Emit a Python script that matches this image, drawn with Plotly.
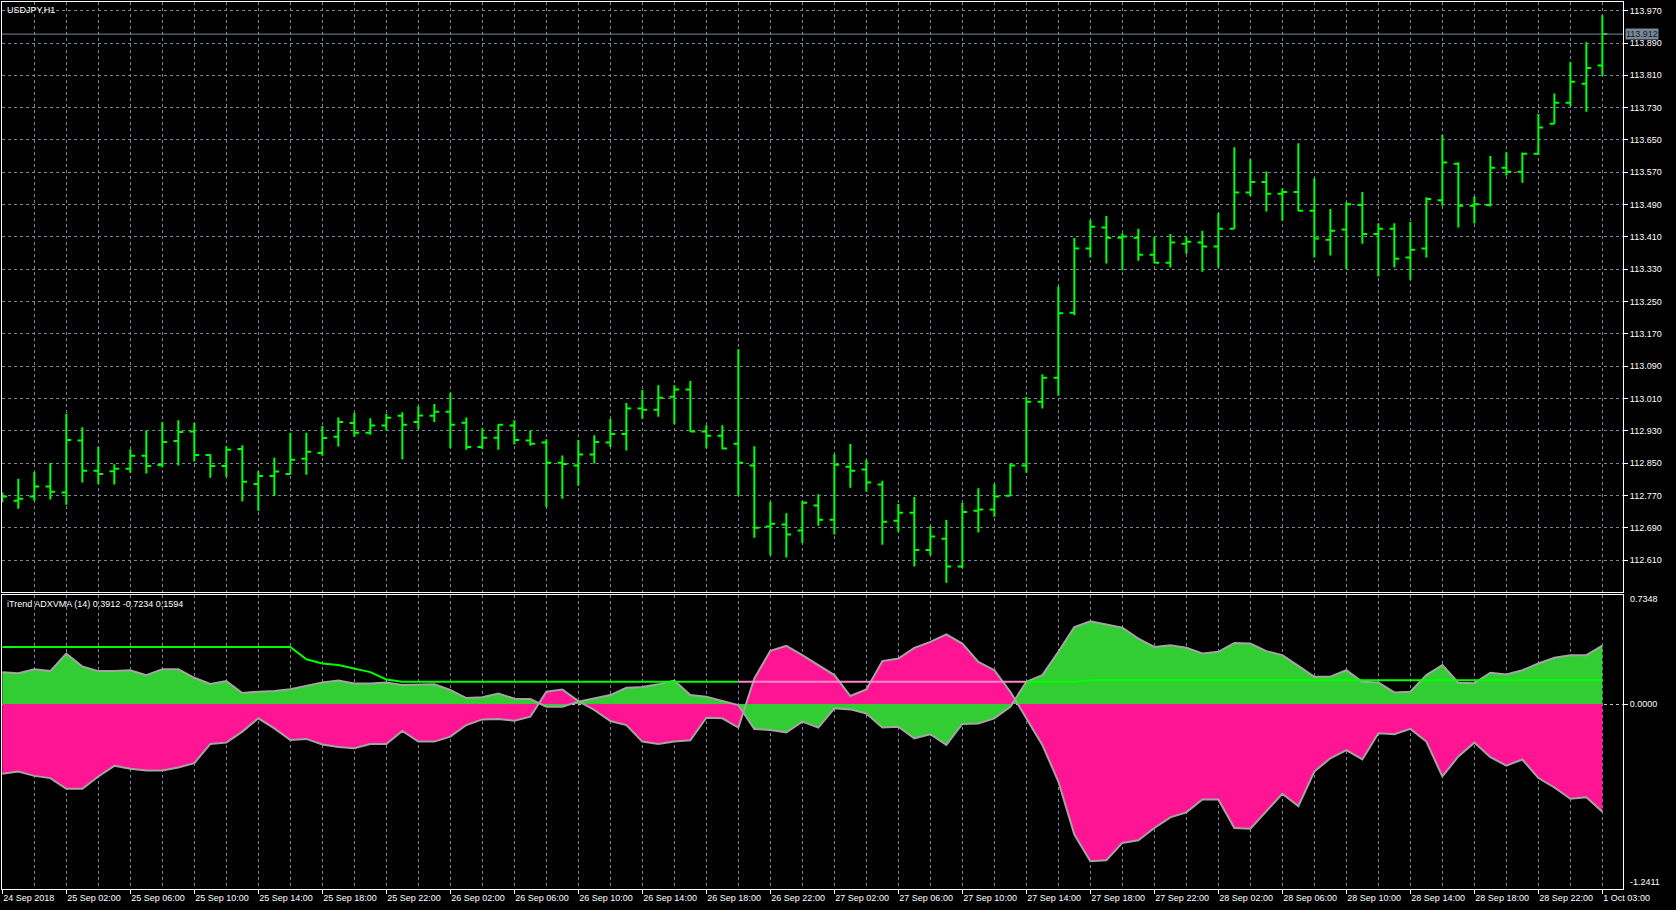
import plotly.graph_objects as go

# ---------------- data ----------------
price_open = [112.770, 112.757, 112.767, 112.792, 112.777, 112.906, 112.831, 112.830, 112.836, 112.868,
              112.845, 112.905, 112.928, 112.870, 112.843, 112.885, 112.798, 112.818, 112.823, 112.861,
              112.875, 112.915, 112.949, 112.925, 112.943, 112.967, 112.952, 112.967, 112.977, 112.950,
              112.890, 112.913, 112.943, 112.906, 112.901, 112.851, 112.844, 112.871, 112.901, 112.922,
              112.985, 112.982, 113.014, 113.032, 112.928, 112.918, 112.898, 112.844, 112.693, 112.698,
              112.683, 112.745, 112.710, 112.841, 112.834, 112.797, 112.707, 112.727, 112.635, 112.663,
              112.594, 112.732, 112.735, 112.769, 112.844, 113.002, 113.061, 113.222, 113.381, 113.433,
              113.408, 113.408, 113.366, 113.346, 113.393, 113.396, 113.386, 113.430, 113.520, 113.546,
              113.517, 113.521, 113.475, 113.403, 113.428, 113.489, 113.417, 113.430, 113.359, 113.381,
              113.501, 113.591, 113.487, 113.489, 113.581, 113.571, 113.616, 113.690, 113.742, 113.789,
              113.834]
price_high = [112.777, 112.811, 112.828, 112.850, 112.972, 112.939, 112.890, 112.847, 112.884, 112.931,
              112.952, 112.956, 112.949, 112.872, 112.892, 112.894, 112.830, 112.863, 112.925, 112.925,
              112.942, 112.963, 112.974, 112.961, 112.972, 112.976, 112.991, 112.996, 113.024, 112.963,
              112.936, 112.946, 112.956, 112.931, 112.909, 112.869, 112.907, 112.919, 112.959, 112.999,
              113.031, 113.043, 113.043, 113.053, 112.944, 112.944, 113.132, 112.892, 112.754, 112.726,
              112.756, 112.773, 112.872, 112.897, 112.858, 112.806, 112.749, 112.766, 112.694, 112.709,
              112.751, 112.788, 112.798, 112.849, 113.014, 113.070, 113.287, 113.407, 113.452, 113.462,
              113.419, 113.430, 113.410, 113.417, 113.411, 113.425, 113.469, 113.632, 113.602, 113.572,
              113.530, 113.642, 113.555, 113.479, 113.496, 113.521, 113.444, 113.444, 113.447, 113.508,
              113.662, 113.595, 113.510, 113.610, 113.619, 113.619, 113.714, 113.765, 113.843, 113.892,
              113.959]
price_low = [112.753, 112.737, 112.757, 112.760, 112.747, 112.802, 112.798, 112.797, 112.826, 112.824,
             112.839, 112.844, 112.854, 112.814, 112.816, 112.755, 112.732, 112.769, 112.822, 112.821,
             112.868, 112.891, 112.915, 112.920, 112.930, 112.859, 112.934, 112.952, 112.887, 112.883,
             112.885, 112.883, 112.896, 112.893, 112.741, 112.762, 112.794, 112.849, 112.890, 112.881,
             112.960, 112.965, 112.947, 112.927, 112.886, 112.884, 112.769, 112.665, 112.622, 112.616,
             112.652, 112.695, 112.673, 112.789, 112.779, 112.648, 112.680, 112.594, 112.622, 112.554,
             112.590, 112.678, 112.717, 112.769, 112.826, 112.985, 113.017, 113.216, 113.359, 113.344,
             113.327, 113.351, 113.345, 113.334, 113.368, 113.324, 113.334, 113.430, 113.511, 113.473,
             113.450, 113.474, 113.359, 113.364, 113.330, 113.393, 113.312, 113.334, 113.304, 113.359,
             113.487, 113.433, 113.443, 113.485, 113.562, 113.544, 113.613, 113.690, 113.734, 113.720,
             113.808]
price_close = [112.767, 112.762, 112.792, 112.779, 112.907, 112.831, 112.823, 112.836, 112.868, 112.843,
               112.902, 112.927, 112.870, 112.843, 112.883, 112.804, 112.818, 112.829, 112.858, 112.878,
               112.912, 112.952, 112.925, 112.943, 112.962, 112.945, 112.968, 112.977, 112.945, 112.890,
               112.913, 112.945, 112.907, 112.898, 112.851, 112.848, 112.871, 112.902, 112.922, 112.985,
               112.982, 113.012, 113.032, 112.928, 112.918, 112.886, 112.851, 112.690, 112.700, 112.673,
               112.752, 112.710, 112.846, 112.831, 112.802, 112.705, 112.727, 112.635, 112.668, 112.594,
               112.729, 112.735, 112.767, 112.844, 113.002, 113.061, 113.221, 113.381, 113.435, 113.408,
               113.411, 113.366, 113.346, 113.396, 113.398, 113.386, 113.430, 113.520, 113.546, 113.517,
               113.521, 113.475, 113.406, 113.425, 113.491, 113.417, 113.430, 113.356, 113.378, 113.504,
               113.594, 113.487, 113.491, 113.581, 113.571, 113.616, 113.681, 113.742, 113.794, 113.828,
               113.912]

time_labels = ["24 Sep 2018", "25 Sep 02:00", "25 Sep 06:00", "25 Sep 10:00", "25 Sep 14:00",
               "25 Sep 18:00", "25 Sep 22:00", "26 Sep 02:00", "26 Sep 06:00", "26 Sep 10:00",
               "26 Sep 14:00", "26 Sep 18:00", "26 Sep 22:00", "27 Sep 02:00", "27 Sep 06:00",
               "27 Sep 10:00", "27 Sep 14:00", "27 Sep 18:00", "27 Sep 22:00", "28 Sep 02:00",
               "28 Sep 06:00", "28 Sep 10:00", "28 Sep 14:00", "28 Sep 18:00", "28 Sep 22:00",
               "1 Oct 03:00"]
bars_per_label = 4

price_ticks = [112.610, 112.690, 112.770, 112.850, 112.930, 113.010, 113.090, 113.170, 113.250,
               113.330, 113.410, 113.490, 113.570, 113.650, 113.730, 113.810, 113.890, 113.970]
current_price = 113.912

trend_up = [0.214, 0.207, 0.234, 0.221, 0.338, 0.252, 0.221, 0.221, 0.227, 0.194,
            0.234, 0.234, 0.176, 0.134, 0.154, 0.074, 0.083, 0.087, 0.100, 0.120,
            0.145, 0.158, 0.138, 0.138, 0.145, 0.127, 0.132, 0.132, 0.094, 0.040,
            0.045, 0.071, 0.036, 0.033, -0.018, -0.018, 0.016, 0.038, 0.060, 0.109,
            0.114, 0.132, 0.158, 0.060, 0.049, 0.020, -0.007, -0.167, -0.174, -0.190,
            -0.118, -0.158, -0.029, -0.036, -0.063, -0.158, -0.152, -0.230, -0.203, -0.274,
            -0.134, -0.130, -0.096, -0.018, 0.149, 0.194, 0.350, 0.517, 0.555, 0.533,
            0.513, 0.439, 0.383, 0.395, 0.377, 0.339, 0.350, 0.410, 0.406, 0.355,
            0.328, 0.256, 0.183, 0.183, 0.227, 0.149, 0.145, 0.078, 0.083, 0.194,
            0.261, 0.143, 0.140, 0.210, 0.198, 0.227, 0.272, 0.310, 0.328, 0.328,
            0.3912]
trend_down = [-0.468, -0.453, -0.482, -0.497, -0.569, -0.569, -0.486, -0.415, -0.435, -0.446,
              -0.446, -0.426, -0.397, -0.268, -0.259, -0.185, -0.096, -0.163, -0.241, -0.234,
              -0.272, -0.288, -0.297, -0.268, -0.268, -0.181, -0.252, -0.252, -0.219, -0.141,
              -0.103, -0.100, -0.112, -0.085, 0.083, 0.098, 0.020, -0.040, -0.114, -0.141,
              -0.252, -0.268, -0.252, -0.243, -0.092, -0.096, -0.158, 0.172, 0.357, 0.390,
              0.328, 0.261, 0.194, 0.054, 0.098, 0.288, 0.305, 0.377, 0.417, 0.468,
              0.406, 0.283, 0.227, 0.082, -0.096, -0.274, -0.520, -0.876, -1.055, -1.048,
              -0.932, -0.914, -0.832, -0.760, -0.727, -0.640, -0.640, -0.832, -0.836, -0.720,
              -0.602, -0.685, -0.453, -0.364, -0.310, -0.372, -0.196, -0.203, -0.167, -0.252,
              -0.486, -0.352, -0.259, -0.357, -0.413, -0.372, -0.497, -0.560, -0.636, -0.625,
              -0.7234]
signal = [0.383, 0.383, 0.383, 0.383, 0.383, 0.383, 0.383, 0.383, 0.383, 0.383,
          0.383, 0.383, 0.383, 0.383, 0.383, 0.383, 0.383, 0.383, 0.383, 0.300,
          0.272, 0.262, 0.240, 0.214, 0.165, 0.150, 0.150, 0.150, 0.150, 0.150,
          0.150, 0.150, 0.150, 0.150, 0.150, 0.150, 0.150, 0.150, 0.150, 0.150,
          0.150, 0.150, 0.150, 0.150, 0.150, 0.150, 0.150, 0.150, 0.150, 0.150,
          0.150, 0.150, 0.150, 0.150, 0.150, 0.150, 0.150, 0.150, 0.150, 0.150,
          0.150, 0.150, 0.150, 0.150, 0.150, 0.150, 0.150, 0.150, 0.159, 0.159,
          0.159, 0.159, 0.159, 0.159, 0.159, 0.159, 0.159, 0.159, 0.159, 0.159,
          0.159, 0.159, 0.159, 0.159, 0.159, 0.159, 0.159, 0.159, 0.159, 0.159,
          0.159, 0.159, 0.159, 0.159, 0.159, 0.159, 0.159, 0.159, 0.159, 0.159,
          0.1594]
signal_down_first, signal_down_last = 46, 64
ind_max, ind_min = 0.7348, -1.2411

# ---------------- styling ----------------
FONT = "Liberation Sans, Arial, sans-serif"
GRID = "#778899"
DASH = "3px,3px"
BAR = "#00FF00"

n = len(price_open)
idx = list(range(n))
x_range = [-0.02, n - 1 + 1.29]

fig = go.Figure()

fig.add_trace(go.Ohlc(
    x=idx, open=price_open, high=price_high, low=price_low, close=price_close,
    increasing=dict(line=dict(color=BAR, width=2)),
    decreasing=dict(line=dict(color=BAR, width=2)),
    tickwidth=0.3, hoverinfo="skip", xaxis="x", yaxis="y"))

# indicator fills
fig.add_trace(go.Scatter(x=idx, y=trend_down, mode="lines", fill="tozeroy",
                         fillcolor="#FF1493", line=dict(width=0), hoverinfo="skip",
                         xaxis="x2", yaxis="y2"))
fig.add_trace(go.Scatter(x=idx, y=trend_up, mode="lines", fill="tozeroy",
                         fillcolor="#32CD32", line=dict(width=0), hoverinfo="skip",
                         xaxis="x2", yaxis="y2"))
# outlines
for series in (trend_up, trend_down):
    fig.add_trace(go.Scatter(x=idx, y=series, mode="lines",
                             line=dict(color="#A4A4A4", width=2), hoverinfo="skip",
                             xaxis="x2", yaxis="y2"))
# signal line, green / pink
sig_up = [v if (i <= signal_down_first or i >= signal_down_last) else None for i, v in enumerate(signal)]
sig_dn = [v if signal_down_first <= i <= signal_down_last else None for i, v in enumerate(signal)]
fig.add_trace(go.Scatter(x=idx, y=sig_up, mode="lines", line=dict(color="#00FF00", width=2),
                         hoverinfo="skip", xaxis="x2", yaxis="y2", connectgaps=False))
fig.add_trace(go.Scatter(x=idx, y=sig_dn, mode="lines", line=dict(color="#FF88C8", width=2),
                         hoverinfo="skip", xaxis="x2", yaxis="y2", connectgaps=False))

label_pos = [i * bars_per_label for i in range(len(time_labels))]
axis_common = dict(showline=True, mirror=True, linecolor="white", linewidth=1, zeroline=False)
tickfont = dict(family=FONT, size=9, color="white")

fig.update_layout(
    width=1676, height=910,
    paper_bgcolor="black", plot_bgcolor="black",
    margin=dict(l=2, r=53, t=2, b=21),
    showlegend=False,
    xaxis=dict(domain=[0, 1], anchor="y", range=x_range, tickmode="linear", tick0=0, dtick=2,
               showticklabels=False, ticks="", showgrid=True, gridcolor=GRID, griddash=DASH,
               gridwidth=1, rangeslider=dict(visible=False), **axis_common),
    yaxis=dict(domain=[0.3348, 1], anchor="x", side="right",
               range=[112.5308, 113.9915], tickmode="array", tickvals=price_ticks,
               tickformat=".3f", ticks="outside", ticklen=4, tickcolor="white",
               tickfont=tickfont, showgrid=True, gridcolor=GRID, griddash=DASH, gridwidth=1,
               **axis_common),
    xaxis2=dict(domain=[0, 1], anchor="y2", range=x_range, tickmode="array",
                tickvals=label_pos, ticktext=time_labels, ticks="outside", ticklen=4,
                tickcolor="white", tickfont=tickfont, ticklabelposition="outside right",
                showgrid=False,
                minor=dict(tickmode="linear", tick0=0, dtick=2, showgrid=True, gridcolor=GRID,
                           griddash=DASH, gridwidth=1, ticks=""),
                layer="above traces", **axis_common),
    yaxis2=dict(domain=[0, 0.332], anchor="x2", side="right", range=[ind_min, ind_max],
                tickmode="array", tickvals=[0.0], ticktext=["0.0000"], ticks="outside",
                ticklen=4, tickcolor="white", tickfont=tickfont, showgrid=True,
                gridcolor="#C8C8C8", griddash=DASH, gridwidth=1, layer="above traces",
                **axis_common),
)

# current price line and tag
fig.add_shape(type="line", xref="x domain", yref="y", x0=0, x1=1,
              y0=current_price, y1=current_price, line=dict(color=GRID, width=1))

ann_font = dict(family=FONT, size=9, color="white")
fig.add_annotation(text=f"{current_price:.3f}", xref="paper", yref="y", x=1, y=current_price,
                   xanchor="left", yanchor="middle", xshift=2, showarrow=False,
                   bgcolor=GRID, borderpad=0, font=dict(family=FONT, size=9, color="#1a1a1a"))
fig.add_annotation(text="USDJPY,H1", xref="paper", yref="paper", x=0, y=1,
                   xanchor="left", yanchor="top", xshift=3, yshift=-1, showarrow=False,
                   font=ann_font)
fig.add_annotation(text=f"iTrend ADXVMA (14) {trend_up[-1]:.4f} {trend_down[-1]:.4f} {signal[-1]:.4f}",
                   xref="paper", yref="paper", x=0, y=0.332, xanchor="left", yanchor="top",
                   xshift=3, yshift=-2, showarrow=False, font=ann_font)
fig.add_annotation(text=f"{ind_max:.4f}", xref="paper", yref="y2", x=1, y=ind_max,
                   xanchor="left", yanchor="top", xshift=5, yshift=3, showarrow=False,
                   font=ann_font)
fig.add_annotation(text=f"{ind_min:.4f}", xref="paper", yref="y2", x=1, y=ind_min,
                   xanchor="left", yanchor="bottom", xshift=5, yshift=0, showarrow=False,
                   font=ann_font)

fig.write_html("out.html", config={"displayModeBar": False},
               post_script="document.body.style.margin='0';document.body.style.overflow='hidden';")
